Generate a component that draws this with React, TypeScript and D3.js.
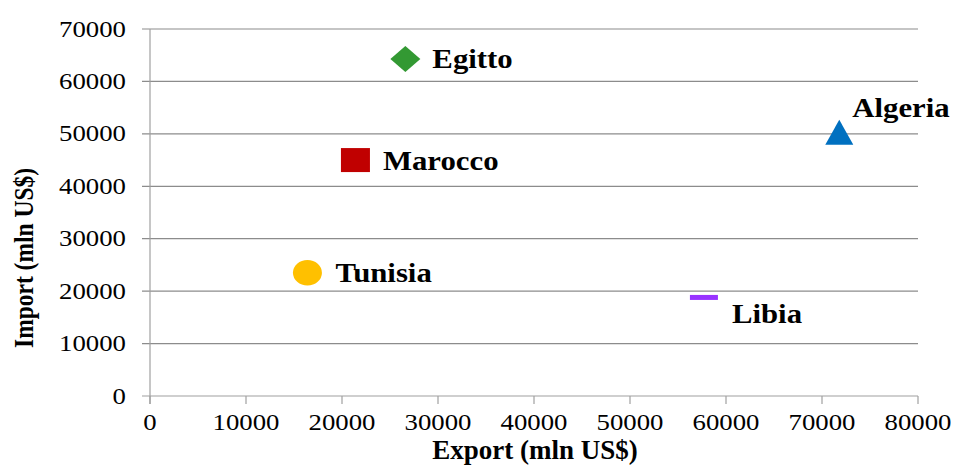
import React from "react";
import * as d3 from "d3";

const countries = ["Egitto", "Marocco", "Tunisia", "Algeria", "Libia"];
const exportValues = [26600, 21400, 16400, 71800, 57700];
const importValues = [64300, 45000, 23500, 50300, 18800];
const xTicks = [0, 10000, 20000, 30000, 40000, 50000, 60000, 70000, 80000];
const yTicks = [0, 10000, 20000, 30000, 40000, 50000, 60000, 70000];
const xTitle = "Export (mln US$)";
const yTitle = "Import (mln US$)";

// marker styles and label placement (presentation only)
const markerStyle: Record<string, { shape: string; color: string }> = {
  Egitto: { shape: "diamond", color: "#339933" },
  Marocco: { shape: "square", color: "#C00000" },
  Tunisia: { shape: "circle", color: "#FFC000" },
  Algeria: { shape: "triangle", color: "#0070C0" },
  Libia: { shape: "dash", color: "#9933FF" },
};
const labelOffset: Record<string, [number, number]> = {
  Egitto: [27, 9],
  Marocco: [27.5, 9.7],
  Tunisia: [28, 9.2],
  Algeria: [13, -15],
  Libia: [28, 25.5],
};

const W = 954;
const H = 466;
const FONT = "'Liberation Serif', 'Times New Roman', serif";

function Marker({ shape, color, cx, cy }: { shape: string; color: string; cx: number; cy: number }) {
  if (shape === "diamond") {
    const w = 15, h = 13;
    return <path d={`M${cx - w},${cy}L${cx},${cy - h}L${cx + w},${cy}L${cx},${cy + h}Z`} fill={color} />;
  }
  if (shape === "square") {
    return <rect x={cx - 14.5} y={cy - 12} width={29} height={24} fill={color} />;
  }
  if (shape === "circle") {
    return <ellipse cx={cx} cy={cy} rx={14.5} ry={12.8} fill={color} />;
  }
  if (shape === "triangle") {
    const w = 14, h = 12.5;
    return <path d={`M${cx},${cy - h}L${cx + w},${cy + h}L${cx - w},${cy + h}Z`} fill={color} />;
  }
  return <rect x={cx - 14} y={cy - 2.5} width={28} height={5} fill={color} />;
}

export default function App() {
  const x = d3.scaleLinear().domain([0, 80000]).range([150, 918]);
  const y = d3.scaleLinear().domain([0, 70000]).range([396, 29]);

  return (
    <svg
      width={W}
      height={H}
      style={{ position: "absolute", left: 0, top: 0, background: "#fff" }}
      fontFamily={FONT}
    >
      {/* horizontal gridlines */}
      {yTicks.map((t) => (
        <line
          key={"g" + t}
          x1={142}
          x2={918}
          y1={y(t)}
          y2={y(t)}
          stroke={t === 0 ? "#a0a0a0" : "#8c8c8c"}
          strokeWidth={1.2}
        />
      ))}
      {/* y axis */}
      <line x1={150} x2={150} y1={y(70000)} y2={404} stroke="#a0a0a0" strokeWidth={1.2} />
      {/* x ticks */}
      {xTicks.map((t) => (
        <line key={"xt" + t} x1={x(t)} x2={x(t)} y1={y(0)} y2={404} stroke="#a0a0a0" strokeWidth={1.2} />
      ))}
      {/* y tick labels */}
      {yTicks.map((t) => (
        <text
          key={"yl" + t}
          transform={`translate(126,${y(t) + 7.5}) scale(1.19,1)`}
          textAnchor="end"
          fontSize={22.5}
          fill="#000"
        >
          {t}
        </text>
      ))}
      {/* x tick labels */}
      {xTicks.map((t) => (
        <text
          key={"xl" + t}
          transform={`translate(${x(t)},430) scale(1.19,1)`}
          textAnchor="middle"
          fontSize={22.5}
          fill="#000"
        >
          {t}
        </text>
      ))}
      {/* axis titles */}
      <text x={535} y={459} textAnchor="middle" fontSize={27} fontWeight="bold" fill="#000">
        {xTitle}
      </text>
      <text
        transform={`translate(33,258) rotate(-90) scale(1,1.2)`}
        textAnchor="middle"
        fontSize={23.5}
        fontWeight="bold"
        fill="#000"
      >
        {yTitle}
      </text>
      {/* points */}
      {countries.map((c, i) => {
        const cx = x(exportValues[i]);
        const cy = y(importValues[i]);
        const st = markerStyle[c];
        const [dx, dy] = labelOffset[c];
        return (
          <g key={c}>
            <Marker shape={st.shape} color={st.color} cx={cx} cy={cy} />
            <text
              transform={`translate(${cx + dx},${cy + dy}) scale(1.14,1)`}
              fontSize={27}
              fontWeight="bold"
              fill="#000"
            >
              {c}
            </text>
          </g>
        );
      })}
    </svg>
  );
}
